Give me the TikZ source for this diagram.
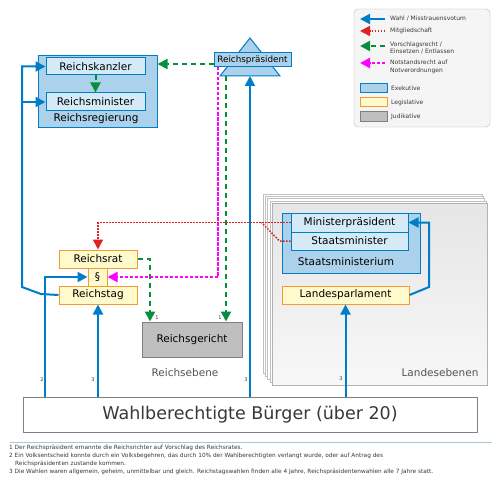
\documentclass[tikz,border=0pt]{standalone}
\usepackage{fontspec}
\setmainfont{DejaVu Sans}
\usepackage{tikz}
\usetikzlibrary{arrows.meta}
\usetikzlibrary{calc}
\definecolor{wahlblue}{rgb}{0.0, 0.49, 0.78}
\definecolor{exekfill}{rgb}{0.67, 0.82, 0.92}
\definecolor{exekinner}{rgb}{0.83, 0.92, 0.97}
\definecolor{legisfill}{rgb}{1.0, 0.98, 0.80}
\definecolor{legisdraw}{rgb}{0.96, 0.60, 0.20}
\definecolor{judikfill}{rgb}{0.75, 0.75, 0.75}
\definecolor{judikdraw}{rgb}{0.50, 0.50, 0.50}
\definecolor{mitgliedred}{rgb}{0.88, 0.13, 0.13}
\definecolor{vorschlaggreen}{rgb}{0.03, 0.56, 0.24}
\definecolor{notmagenta}{rgb}{1.0, 0.0, 1.0}
\definecolor{textgrey}{rgb}{0.22, 0.22, 0.22}
\definecolor{ebenegrey}{rgb}{0.33, 0.33, 0.33}
\definecolor{legendgrey}{rgb}{0.96, 0.96, 0.96}
\definecolor{trennblue}{rgb}{0.65, 0.78, 0.85}

\tikzset{
	exek/.style={draw=wahlblue, fill=exekfill, line width=1pt, inner sep=0pt},
	exekin/.style={draw=wahlblue, fill=exekinner, line width=1pt, inner sep=0pt, font=\fontsize{10.5}{12}\selectfont},
	legis/.style={draw=legisdraw, fill=legisfill, line width=1pt, inner sep=0pt, font=\fontsize{10.5}{12}\selectfont},
	judik/.style={draw=judikdraw, fill=judikfill, line width=1pt, inner sep=0pt, font=\fontsize{10.5}{12}\selectfont},
	tip/.style={-{Triangle[length=10pt,width=10pt]}},
	wahl/.style={wahlblue, line width=2pt, tip},
	mitglied/.style={mitgliedred, line width=1.5pt, dash pattern=on 1.5pt off 1.5pt, tip},
	vorschlag/.style={vorschlaggreen, line width=2pt, dash pattern=on 5pt off 4pt, tip},
	notstand/.style={notmagenta, line width=2pt, dash pattern=on 3.5pt off 1.5pt, tip},
	fnum/.style={inner sep=0pt, text=textgrey, font=\fontsize{5}{6}\selectfont},
	legtext/.style={anchor=west, inner sep=0pt, align=left, text=textgrey, font=\fontsize{6}{8}\selectfont},
	fusstext/.style={anchor=west, inner sep=0pt, text=textgrey, font=\fontsize{5.8}{7}\selectfont},
	ebene/.style={inner sep=0pt, text=ebenegrey, font=\fontsize{10.5}{12}\selectfont}
}

\begin{document}
\begin{tikzpicture}[x=1pt, y=-1pt]
	\useasboundingbox[fill=white] (0,0) rectangle (500,500);

	% Landesebenen (Stapel)
	\filldraw[draw=gray!50, fill=white] (262.8,193.8) rectangle (482.2,373);
	\filldraw[draw=gray!50, fill=white] (265.1,196.1) rectangle (483.4,376);
	\filldraw[draw=gray!50, fill=white] (267.4,198.4) rectangle (484.6,379);
	\filldraw[draw=gray!50, fill=white] (269.7,200.7) rectangle (485.8,382);
	\draw[draw=gray!60, top color=gray!20, bottom color=gray!6] (272,203) rectangle (487,385);
	\node[ebene] (landesebenen) at (440,373) {Landesebenen};

	% Reichsregierung
	\node[exek, minimum width=119pt, minimum height=71pt] (regierung) at (97.5,91.5) {};
	\node[exekin, minimum width=99pt, minimum height=17pt] (kanzler) at (95.5,66.5) {Reichskanzler};
	\node[exekin, minimum width=99pt, minimum height=18pt] (minister) at (95.5,102) {Reichsminister};
	\node[inner sep=0pt, font=\fontsize{10.5}{12}\selectfont] (regierunglabel) at (96,119) {Reichsregierung};

	% Reichspraesident
	\filldraw[draw=wahlblue, fill=exekfill, line width=1pt] (250,38) -- (280,76) -- (220,76) -- cycle;
	\coordinate (praesbase) at (250,76);
	\node[exek, minimum width=77pt, minimum height=14pt, font=\fontsize{8.8}{10}\selectfont] (praes) at (252.5,60) {Reichspräsident};

	% Reichsrat / Reichstag
	\node[legis, minimum width=78pt, minimum height=18pt] (rat) at (98,259) {Reichsrat};
	\node[legis, minimum width=78pt, minimum height=18pt] (tag) at (98,295) {Reichstag};
	\node[legis, minimum width=19pt, minimum height=18pt] (para) at (97.5,277) {§};

	% Reichsgericht
	\node[judik, minimum width=100pt, minimum height=35pt] (gericht) at (192,339.5) {Reichsgericht};
	\node[ebene] (reichsebene) at (185,373) {Reichsebene};

	% Land
	\node[exek, minimum width=138pt, minimum height=60pt] (staatsmin) at (351,243) {};
	\node[exekin, minimum width=117pt, minimum height=19pt] (mpraes) at (349.5,222.5) {Ministerpräsident};
	\node[exekin, minimum width=117pt, minimum height=18pt] (smin) at (349.5,241) {Staatsminister};
	\node[inner sep=0pt, font=\fontsize{10.5}{12}\selectfont] (staatsminlabel) at (346,262) {Staatsministerium};
	\node[legis, minimum width=127pt, minimum height=18pt] (landtag) at (345.5,295) {Landesparlament};

	% Buerger
	\node[draw=judikdraw, fill=white, line width=1pt, minimum width=454pt, minimum height=35pt, inner sep=0pt, text=textgrey, font=\fontsize{17.5}{20}\selectfont] (buerger) at (250,414.5) {Wahlberechtigte Bürger (über 20)};

	% {Wahl}
	\coordinate (s2) at (45,0);
	\draw[wahl] (buerger.north -| s2) -- (s2 |- para.west) -- (para.west);
	\draw[wahl] (buerger.north -| tag.south) -- (tag.south);
	\draw[wahl] (buerger.north -| praesbase) -- (praesbase);
	\draw[wahl] (buerger.north -| landtag.south) -- (landtag.south);
	\coordinate (knick) at (22,287);
	\draw[wahl] (tag.west) -- (41,294) -- (knick) -- (knick |- kanzler.west) -- (kanzler.west);
	\draw[wahl] (knick |- minister.west) -- (minister.west);
	\coordinate (l1) at (429,287);
	\draw[wahl] (landtag.east) -- (l1) -- (l1 |- mpraes.east) -- (mpraes.east);

	% {Vorschlag}
	\draw[vorschlag] ([yshift=-4pt]praes.west) -- ([yshift=-4pt]praes.west -| regierung.east);
	\draw[vorschlag] (kanzler.south) -- (minister.north);
	\coordinate (g1) at (226,76);
	\draw[vorschlag] (g1) -- (g1 |- gericht.north);
	\coordinate (g2) at (150,0);
	\draw[vorschlag] (rat.east) -- (rat.east -| g2) -- (g2 |- gericht.north);

	% {Notstand}
	\coordinate (m1) at (218,67);
	\draw[notstand] (m1) -- (m1 |- para.east) -- (para.east);

	% {Mitglied}
	\draw[mitglied] (mpraes.west) -- (mpraes.west -| rat.north) -- (rat.north);
	\draw[mitglied, -] (smin.west) -- ++(-11,0) -- ($(mpraes.west)+(-29,0)$);

	% Fussnotenzeichen
	\node[fnum] (n2) at (42,380) {2};
	\node[fnum] (n3a) at (93,380) {3};
	\node[fnum] (n3b) at (246,380) {3};
	\node[fnum] (n3c) at (341,379) {3};
	\node[fnum] (n1a) at (157,318) {1};
	\node[fnum] (n1b) at (220,318) {1};

	% Legende
	\filldraw[draw=gray!55, fill=legendgrey, rounded corners=4pt] (354,9) rectangle (490,127);
	\coordinate (lg1) at (385,19);
	\coordinate (lg2) at (385,31);
	\coordinate (lg3) at (385,46);
	\coordinate (lg4) at (385,63);
	\draw[wahl] (lg1) -- ++(-25,0);
	\draw[mitglied] (lg2) -- ++(-25,0);
	\draw[vorschlag] (lg3) -- ++(-25,0);
	\draw[notstand] (lg4) -- ++(-25,0);
	\node[legtext] (t1) at (390,19) {Wahl / Misstrauensvotum};
	\node[legtext] (t2) at (390,31) {Mitgliedschaft};
	\node[legtext] (t3) at (390,48) {Vorschlagsrecht /\\Einsetzen / Entlassen};
	\node[legtext] (t4) at (390,67) {Notstandsrecht auf\\Notverordnungen};
	\filldraw[draw=wahlblue, fill=exekfill, line width=1pt] (360,84) rectangle (387,93);
	\filldraw[draw=legisdraw, fill=legisfill, line width=1pt] (360,98) rectangle (387,107);
	\filldraw[draw=judikdraw, fill=judikfill, line width=1pt] (360,112) rectangle (387,121);
	\node[legtext] (t5) at (391,88.5) {Exekutive};
	\node[legtext] (t6) at (391,102.5) {Legislative};
	\node[legtext] (t7) at (391,116.5) {Judikative};

	% Fussnoten
	\draw[trennblue, line width=1pt] (10,442) -- (492,442);
	\node[fusstext] (f1) at (9,448) {1 Der Reichspräsident ernannte die Reichsrichter auf Vorschlag des Reichsrates.};
	\node[fusstext] (f2) at (9,456) {2 Ein Volksentscheid konnte durch ein Volksbegehren, das durch 10\% der Wahlberechtigten verlangt wurde, oder auf Antrag des};
	\node[fusstext] (f2b) at (15,463.5) {Reichspräsidenten zustande kommen.};
	\node[fusstext] (f3) at (9,472) {3 Die Wahlen waren allgemein, geheim, unmittelbar und gleich. Reichstagswahlen finden alle 4 Jahre, Reichspräsidentenwahlen alle 7 Jahre statt.};
\end{tikzpicture}
\end{document}
